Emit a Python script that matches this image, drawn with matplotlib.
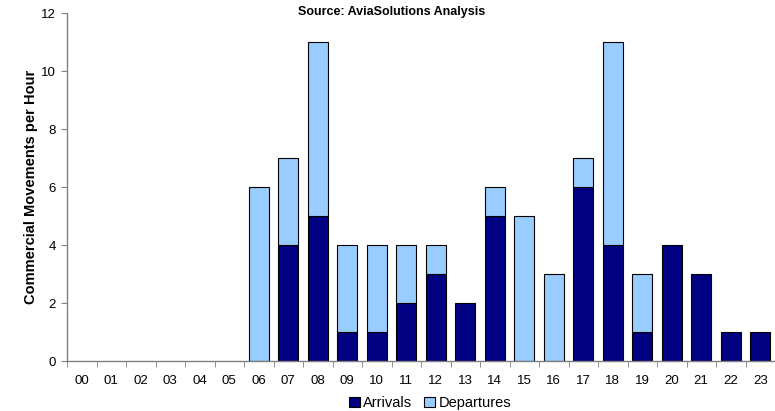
import matplotlib
matplotlib.use("Agg")
import matplotlib.pyplot as plt
import numpy as np
from matplotlib.patches import Patch

hours = ["00", "01", "02", "03", "04", "05", "06", "07", "08", "09", "10", "11",
         "12", "13", "14", "15", "16", "17", "18", "19", "20", "21", "22", "23"]
arrivals = [0, 0, 0, 0, 0, 0, 0, 4, 5, 1, 1, 2, 3, 2, 5, 0, 0, 6, 4, 1, 4, 3, 1, 1]
departures = [0, 0, 0, 0, 0, 0, 6, 3, 6, 3, 3, 2, 1, 0, 1, 5, 3, 1, 7, 2, 0, 0, 0, 0]
y_ticks = [0, 2, 4, 6, 8, 10, 12]

plt.rcParams['font.family'] = ['Liberation Sans', 'DejaVu Sans']

fig = plt.figure(figsize=(7.75, 4.11), dpi=100)
ax = fig.add_axes([67/775, 50/411, 1 - 67/775, 348/411])

x = np.arange(len(hours))
arr = np.array(arrivals)
dep = np.array(departures)
w = 0.68
ax.bar(x[arr > 0], arr[arr > 0], width=w, color="#000080", edgecolor="black", linewidth=0.8, zorder=2)
ax.bar(x[dep > 0], dep[dep > 0], width=w, bottom=arr[dep > 0], color="#99CCFF",
       edgecolor="black", linewidth=0.8, zorder=2)

ax.set_xlim(-0.5, len(hours) - 0.5)
ax.set_ylim(0, 12)
ax.set_yticks(y_ticks)
ax.set_yticklabels([str(v) for v in y_ticks], fontsize=9.5)
ax.set_xticks(x)
ax.set_xticklabels(hours, fontsize=9.5)
ax.set_xticks(np.arange(-0.5, len(hours), 1), minor=True)
ax.tick_params(axis='x', which='major', length=0, pad=10)
ax.tick_params(axis='x', which='minor', length=4, direction='out', color='#808080')
ax.tick_params(axis='y', length=4, direction='out', color='#808080', pad=4)

for s in ['top', 'right']:
    ax.spines[s].set_visible(False)
for s in ['left', 'bottom']:
    ax.spines[s].set_color('#808080')
    ax.spines[s].set_linewidth(1.0)

ax.set_ylabel("Commercial Movements per Hour", fontsize=10.5, fontweight='bold', labelpad=2)

fig.text(392/775, 1 - 12/411, "Source: AviaSolutions Analysis", ha='center', va='center',
         fontsize=9, fontweight='bold')

handles = [Patch(facecolor="#000080", edgecolor="black", linewidth=0.8, label="Arrivals"),
           Patch(facecolor="#99CCFF", edgecolor="black", linewidth=0.8, label="Departures")]
fig.legend(handles=handles, loc='center', bbox_to_anchor=(430/775, 1 - 403/411), ncol=2,
           frameon=False, fontsize=10.5, handlelength=0.75, handleheight=0.75,
           handletextpad=0.25, columnspacing=0.8, borderpad=0)

fig.savefig("out.png", dpi=100)
